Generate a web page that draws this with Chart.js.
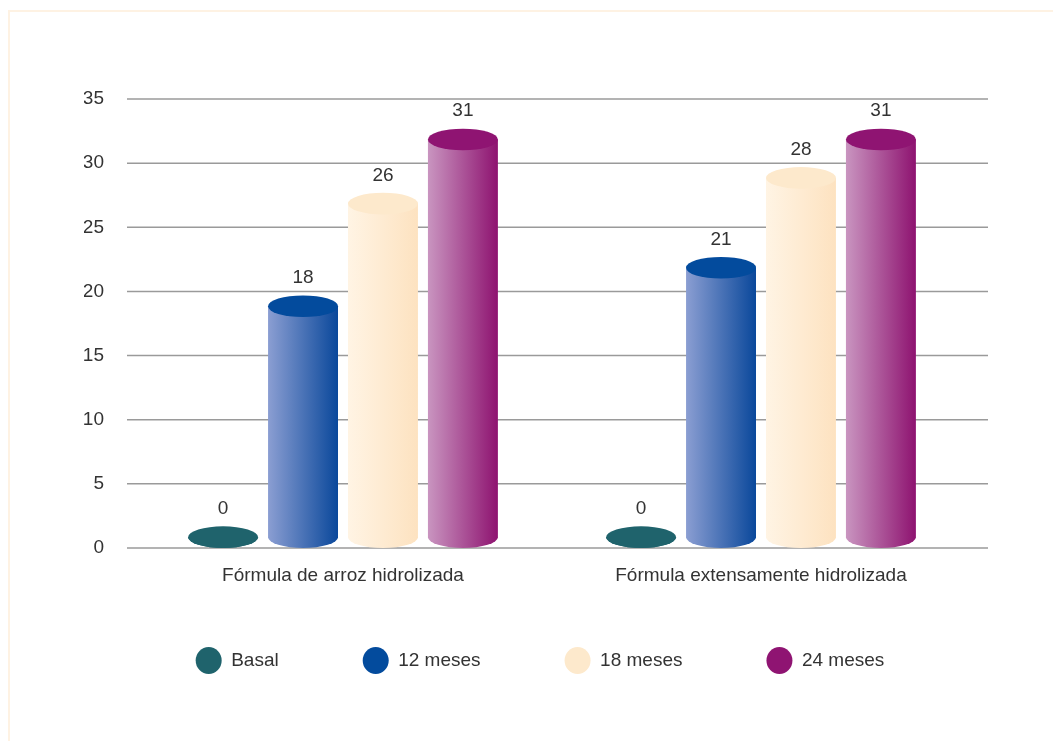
<!DOCTYPE html>
<html>
<head>
<meta charset="utf-8">
<script src="https://cdn.jsdelivr.net/npm/chart.js@4"></script>
<style>
  html, body { margin: 0; padding: 0; background: #fff; overflow: hidden; }
  #frame { position: absolute; left: 8px; top: 10px; width: 2000px; height: 2000px; border: 2px solid #fef2e3; }
  #wrap { position: absolute; left: 0; top: 0; width: 1053px; height: 741px; }
</style>
</head>
<body>
<div id="frame"></div>
<div id="wrap"><canvas id="chartCanvas"></canvas></div>
<script>
var categories = ['Fórmula de arroz hidrolizada', 'Fórmula extensamente hidrolizada'];
var seriesNames = ['Basal', '12 meses', '18 meses', '24 meses'];
var basal = [0, 0];
var meses12 = [18, 21];
var meses18 = [26, 28];
var meses24 = [31, 31];
var yTicks = [0, 5, 10, 15, 20, 25, 30, 35];

// colours: cap colour, left and right of the body shading
var capColors = ['#1f636c', '#034b9d', '#fde9cc', '#8f1472'];
var leftColors = ['#1f636c', '#8b9ed2', '#fff4e4', '#c995c0'];
var rightColors = ['#1f636c', '#0a489b', '#fde2c0', '#8e1370'];

Chart.defaults.font.family = '"Liberation Sans", Arial, sans-serif';
Chart.defaults.font.size = 19;
Chart.defaults.color = '#333';

// grid lines, a bit wider than the plot area
var gridPlugin = {
    id: 'gridLines',
    beforeDatasetsDraw(chart) {
        var ctx = chart.ctx;
        var area = chart.chartArea;
        var y = chart.scales.y;
        ctx.save();
        ctx.strokeStyle = '#9a9a9a';
        ctx.lineWidth = 1.5;
        y.ticks.forEach(function (t) {
            var py = y.getPixelForValue(t.value);
            ctx.beginPath();
            ctx.moveTo(area.left - 7, py);
            ctx.lineTo(area.right + 18, py);
            ctx.stroke();
        });
        ctx.restore();
    }
};

// move the legend row closer to the axis labels
var legendShift = {
    id: 'legendShift',
    afterLayout(chart) {
        var lg = chart.legend;
        lg.top -= 21; lg.bottom -= 21;
        lg.left += 13; lg.right += 13;
    }
};

// bars drawn as cylinders with a cap and the value above
var cylinderPlugin = {
    id: 'cylinders',
    beforeDatasetsDraw(chart) {
        var ctx = chart.ctx;
        ctx.save();
        chart.data.datasets.forEach(function (ds, di) {
            var meta = chart.getDatasetMeta(di);
            meta.data.forEach(function (bar, i) {
                var p = bar.getProps(['x', 'y', 'base', 'width'], true);
                var rx = p.width / 2;
                var ry = rx * 0.31;
                var yBottom = p.base - ry;
                var yTop = p.y - ry;

                var grad = ctx.createLinearGradient(p.x - rx, 0, p.x + rx, 0);
                grad.addColorStop(0, leftColors[di]);
                grad.addColorStop(1, rightColors[di]);
                ctx.beginPath();
                ctx.moveTo(p.x - rx, yTop);
                ctx.lineTo(p.x - rx, yBottom);
                ctx.ellipse(p.x, yBottom, rx, ry, 0, Math.PI, 0, true);
                ctx.lineTo(p.x + rx, yTop);
                ctx.closePath();
                ctx.fillStyle = grad;
                ctx.fill();

                ctx.beginPath();
                ctx.ellipse(p.x, yTop, rx, ry, 0, 0, Math.PI * 2);
                ctx.fillStyle = capColors[di];
                ctx.fill();

                ctx.fillStyle = '#333';
                ctx.font = '19px "Liberation Sans", Arial, sans-serif';
                ctx.textAlign = 'center';
                ctx.textBaseline = 'bottom';
                ctx.fillText(ds.data[i], p.x, yTop - ry - 8);
            });
        });
        ctx.restore();
        return false;
    }
};

var seriesData = [basal, meses12, meses18, meses24];
var ctx = document.getElementById('chartCanvas').getContext('2d');
var chart = new Chart(ctx, {
    type: 'bar',
    data: {
        labels: categories,
        datasets: seriesNames.map(function (name, i) {
            return {
                label: name,
                data: seriesData[i],
                backgroundColor: capColors[i],
                barPercentage: 0.875,
                categoryPercentage: 0.765
            };
        })
    },
    options: {
        responsive: true,
        maintainAspectRatio: false,
        animation: false,
        events: [],
        layout: { padding: { left: 84, right: 83, top: 99, bottom: 40 } },
        scales: {
            x: {
                grid: { display: false, drawTicks: false },
                border: { display: false },
                ticks: { padding: 16, color: '#333', maxRotation: 0 },
                afterFit: function (scale) { scale.height = 40; }
            },
            y: {
                min: 0,
                max: 35,
                afterBuildTicks: function (scale) {
                    scale.ticks = yTicks.map(function (v) { return { value: v }; });
                },
                grid: { display: false, drawTicks: false },
                border: { display: false },
                ticks: { padding: 30, color: '#333' },
                afterFit: function (scale) { scale.width = 50; }
            }
        },
        plugins: {
            legend: {
                position: 'bottom',
                labels: {
                    usePointStyle: true,
                    pointStyle: 'circle',
                    pointStyleWidth: 26,
                    padding: 84,
                    color: '#333'
                }
            },
            tooltip: { enabled: false }
        }
    },
    plugins: [gridPlugin, cylinderPlugin, legendShift]
});
</script>
</body>
</html>
